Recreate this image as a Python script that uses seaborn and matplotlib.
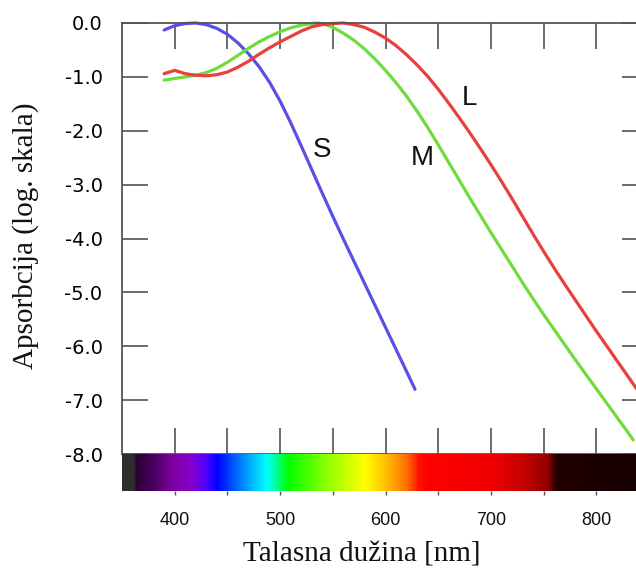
import numpy as np
import pandas as pd
import matplotlib
matplotlib.use("Agg")
import matplotlib.pyplot as plt
import seaborn as sns
from matplotlib.colors import LinearSegmentedColormap, Normalize

# ---------------- data ----------------
wl_S = [390, 400, 410, 420, 430, 440, 450, 460, 470, 480, 490, 500, 510, 520,
        530, 540, 550, 560, 570, 580, 590, 600, 610, 620, 628]
abs_S = [-0.13, -0.05, -0.01, 0.0, -0.03, -0.10, -0.21, -0.37, -0.57, -0.81,
         -1.10, -1.45, -1.85, -2.28, -2.72, -3.16, -3.59, -4.01, -4.42, -4.83,
         -5.24, -5.65, -6.06, -6.47, -6.80]

wl_M = [390, 400, 410, 420, 430, 440, 450, 460, 470, 480, 490, 500, 510, 520,
        530, 535, 540, 550, 560, 570, 580, 590, 600, 610, 620, 630, 640, 650,
        660, 670, 680, 690, 700, 710, 720, 730, 740, 750, 760, 770, 780, 790,
        800, 810, 820, 830, 835]
abs_M = [-1.06, -1.03, -1.00, -0.97, -0.92, -0.84, -0.73, -0.60, -0.47, -0.35,
         -0.25, -0.16, -0.09, -0.04, -0.01, 0.0, -0.01, -0.08, -0.19, -0.32,
         -0.48, -0.67, -0.88, -1.11, -1.36, -1.64, -1.94, -2.26, -2.59, -2.92,
         -3.25, -3.57, -3.89, -4.20, -4.51, -4.82, -5.12, -5.41, -5.69, -5.97,
         -6.25, -6.52, -6.79, -7.06, -7.33, -7.60, -7.74]

wl_L = [390, 400, 410, 420, 430, 440, 450, 460, 470, 480, 490, 500, 510, 520,
        530, 540, 550, 560, 570, 580, 590, 600, 610, 620, 630, 640, 650, 660,
        670, 680, 690, 700, 710, 720, 730, 740, 750, 760, 770, 780, 790, 800,
        810, 820, 830, 840]
abs_L = [-0.94, -0.88, -0.94, -0.97, -0.98, -0.96, -0.91, -0.82, -0.71, -0.58,
         -0.46, -0.35, -0.25, -0.15, -0.07, -0.03, -0.01, 0.0, -0.03, -0.08,
         -0.17, -0.28, -0.42, -0.59, -0.78, -0.99, -1.23, -1.49, -1.76, -2.04,
         -2.33, -2.63, -2.94, -3.26, -3.59, -3.92, -4.24, -4.55, -4.85, -5.14,
         -5.43, -5.72, -6.00, -6.28, -6.56, -6.84]

curve_names = ["S", "M", "L"]
curve_colors = ["#5a50e4", "#70dc3c", "#e8403f"]
label_x = [540, 635, 680]
label_y = [-2.36, -2.50, -1.39]

y_ticks = [0.0, -1.0, -2.0, -3.0, -4.0, -5.0, -6.0, -7.0, -8.0]
y_ticklabels = ["0.0", "-1.0", "-2.0", "-3.0", "-4.0", "-5.0", "-6.0", "-7.0", "-8.0"]
x_ticks_minor = [400, 450, 500, 550, 600, 650, 700, 750, 800]
x_ticks_major = [400, 500, 600, 700, 800]
x_ticklabels = ["400", "500", "600", "700", "800"]

spec_nm = [350, 361, 363, 380, 395, 415, 430, 440, 460, 475, 487, 498, 507,
           545, 580, 600, 620, 632, 640, 700, 730, 755, 759, 763, 849]
spec_colors = ["#2e2e2e", "#2e2e2e", "#2a0032", "#4a0062", "#7a0098", "#8800cc",
               "#5000ff", "#0000ff", "#0070ff", "#00c0ff", "#00ffff", "#00ff80",
               "#00ff00", "#90ff00", "#ffff00", "#ffc000", "#ff7000", "#ff1000",
               "#ff0000", "#f00000", "#c80000", "#900000", "#500000", "#200000",
               "#160000"]

x_min, x_max = 350, 849
y_min, y_max = -8.0, 0.0

# ---------------- figure ----------------
sns.set_theme(style="white")
plt.rcParams["axes.unicode_minus"] = False

fig = plt.figure(figsize=(6.36, 5.70), dpi=100)
W, H = 636, 570
ax = fig.add_axes([122 / W, 1 - 454 / H, (648 - 122) / W, (454 - 23) / H])
ax_s = fig.add_axes([122 / W, 1 - 491 / H, (648 - 122) / W, (491 - 454) / H])

df = pd.concat([
    pd.DataFrame({"wl": wl_S, "a": abs_S, "c": "S"}),
    pd.DataFrame({"wl": wl_M, "a": abs_M, "c": "M"}),
    pd.DataFrame({"wl": wl_L, "a": abs_L, "c": "L"}),
])
sns.lineplot(data=df, x="wl", y="a", hue="c", hue_order=curve_names,
             palette=dict(zip(curve_names, curve_colors)), linewidth=2.3,
             ax=ax, legend=False, clip_on=False, estimator=None, sort=True)
for ln in ax.get_lines():
    ln.set_solid_joinstyle("round")
    ln.set_solid_capstyle("round")

for name, lx, ly in zip(curve_names, label_x, label_y):
    ax.text(lx, ly, name, ha="center", va="center", fontsize=20,
            family="Liberation Sans", color="#111111")

ax.set_xlim(x_min, x_max)
ax.set_ylim(y_min, y_max)
ax.set_xticks(x_ticks_minor)
ax.set_xticklabels([])
ax.set_yticks(y_ticks)
ax.set_yticklabels(y_ticklabels, fontsize=14, family="DejaVu Sans", color="#000000")
ax.tick_params(axis="both", direction="in", length=19, width=1.1, color="#444444")
ax.tick_params(axis="x", top=True, bottom=True, labelbottom=False)
ax.tick_params(axis="y", left=True, right=True, pad=14)
ax.set_xlabel("")
ax.set_ylabel("")
for sp in ax.spines.values():
    sp.set_visible(True)
    sp.set_color("#555555")
    sp.set_linewidth(1.3)

# spectrum bar
pos = [(n - x_min) / (x_max - x_min) for n in spec_nm]
cmap = LinearSegmentedColormap.from_list("spec", list(zip(pos, spec_colors)), N=1024)
grid = np.linspace(x_min, x_max, 1000)[None, :]
ax_s.imshow(grid, extent=[x_min, x_max, 0, 1], aspect="auto", cmap=cmap,
            norm=Normalize(x_min, x_max), interpolation="bilinear")
ax_s.set_xlim(x_min, x_max)
ax_s.set_ylim(0, 1)
ax_s.set_yticks([])
ax_s.set_xticks(x_ticks_minor, minor=True)
ax_s.set_xticks(x_ticks_major)
ax_s.set_xticklabels(x_ticklabels, fontsize=13, family="Liberation Sans",
                     color="#111111")
ax_s.tick_params(axis="x", which="both", direction="out", length=3, width=1.0,
                 color="#555555", pad=12, bottom=True)
for sp in ax_s.spines.values():
    sp.set_visible(False)

fig.text(26 / W, 1 - 236 / H, "Apsorbcija (log. skala)", rotation=90,
         ha="center", va="center", fontsize=21, family="Liberation Serif",
         color="#111111")
fig.text(362 / W, 1 - 562 / H, "Talasna dužina [nm]", ha="center",
         va="baseline", fontsize=21, family="Liberation Serif", color="#111111")

fig.savefig("out.png", dpi=100)
